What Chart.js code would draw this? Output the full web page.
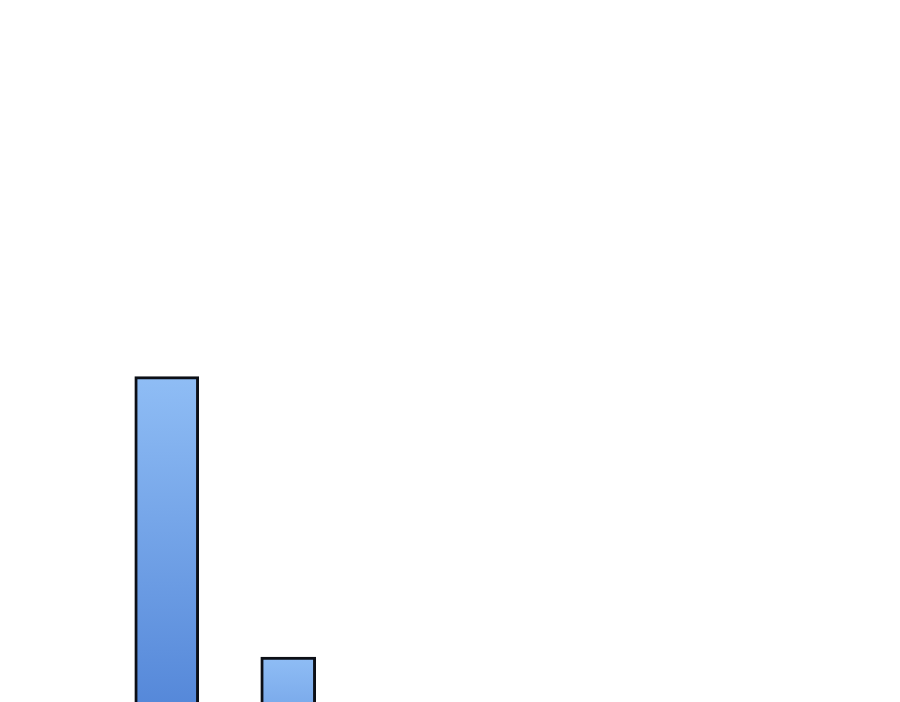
<!DOCTYPE html>
<html>
<head>
<meta charset="utf-8">
<script src="https://cdn.jsdelivr.net/npm/chart.js@4"></script>
<style>
  html, body { margin: 0; padding: 0; background: #ffffff; overflow: hidden; }
  #wrap { position: relative; width: 900px; height: 880px; }
</style>
</head>
<body>
<div id="wrap"><canvas id="chart"></canvas></div>
<script>
// values (the zero line sits below the visible crop)
var categories = ["A", "B"];
var seriesA = [5.62, null];
var seriesB = [null, 2.36];

function barGradient(context){
    var chart = context.chart;
    var area = chart.chartArea;
    if(!area) return "#6b9de6";
    var v = context.raw;
    if(v === null || v === undefined) return "#6b9de6";
    var y = chart.scales.y;
    var top = y.getPixelForValue(v);
    var base = y.getPixelForValue(0);
    var g = chart.ctx.createLinearGradient(0, top, 0, base);
    g.addColorStop(0, "#8fbdf5");
    g.addColorStop(1, "#3a6fcc");
    return g;
}

var ctx = document.getElementById("chart").getContext("2d");

var config = {
    type: "bar",
    data: {
        labels: categories,
        datasets: [{
            label: "A",
            data: seriesA,
            backgroundColor: barGradient,
            borderColor: "#0c0f16",
            borderWidth: 3,
            borderSkipped: false,
            barThickness: 64
        },{
            label: "B",
            data: seriesB,
            backgroundColor: barGradient,
            borderColor: "#0c0f16",
            borderWidth: 3,
            borderSkipped: false,
            barThickness: 55
        }]
    },
    options: {
        responsive: true,
        maintainAspectRatio: false,
        animation: false,
        layout: { padding: { left: 106, right: 551, top: 0, bottom: 20 } },
        plugins: {
            legend: { display: false },
            tooltip: { enabled: false }
        },
        datasets: { bar: { grouped: false } },
        scales: {
            x: { display: false, offset: true },
            y: { display: false, min: 0, max: 10 }
        }
    }
};

var chart = new Chart(ctx, config);
</script>
</body>
</html>
